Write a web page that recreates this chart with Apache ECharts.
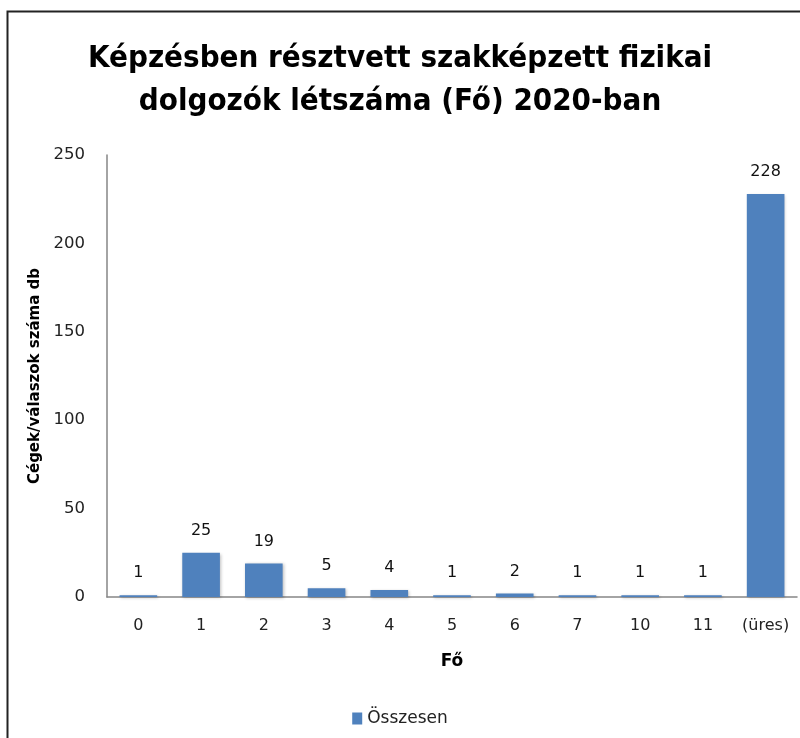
<!DOCTYPE html>
<html>
<head>
<meta charset="utf-8">
<script src="https://cdn.jsdelivr.net/npm/echarts@6/dist/echarts.min.js"></script>
<style>
  html, body { margin: 0; padding: 0; background: #fff; }
  #main { width: 800px; height: 738px; }
</style>
</head>
<body>
<div id="main"></div>
<script>
const categories = ["0", "1", "2", "3", "4", "5", "6", "7", "10", "11", "(üres)"];
const osszesen = [1, 25, 19, 5, 4, 1, 2, 1, 1, 1, 228];
const yTicks = [0, 50, 100, 150, 200, 250];

const TITLE_FONT = "'Liberation Sans Narrow', 'DejaVu Sans Condensed', sans-serif";
const FONT = "'DejaVu Sans', sans-serif";

const chart = echarts.init(document.getElementById("main"));
chart.setOption({
  animation: false,
  graphic: [{
    type: "rect",
    shape: { x: 7.5, y: 11.5, width: 820, height: 800 },
    style: { fill: "none", stroke: "#222", lineWidth: 2 },
    silent: true
  }],
  title: {
    text: "Képzésben résztvett szakképzett fizikai\ndolgozók létszáma (Fő) 2020-ban",
    left: "center",
    top: 32,
    textStyle: {
      fontFamily: TITLE_FONT,
      fontSize: 31,
      fontWeight: "bold",
      color: "#000",
      lineHeight: 43
    }
  },
  legend: {
    bottom: 6,
    left: "center",
    itemWidth: 10,
    itemHeight: 12,
    icon: "rect",
    textStyle: { fontFamily: FONT, fontSize: 17, color: "#222" },
    data: ["Összesen"]
  },
  grid: { left: 107, right: 3, top: 155, bottom: 141 },
  xAxis: {
    type: "category",
    data: categories,
    name: "Fő",
    nameLocation: "middle",
    nameGap: 56,
    nameTextStyle: { fontFamily: FONT, fontSize: 17, fontWeight: "bold", color: "#000" },
    axisLine: { lineStyle: { color: "#868686", width: 1.5 } },
    axisTick: { show: false },
    axisLabel: { interval: 0, fontFamily: FONT, fontSize: 16, color: "#222", margin: 21 }
  },
  yAxis: {
    type: "value",
    min: yTicks[0],
    max: yTicks[yTicks.length - 1],
    interval: 50,
    name: "Cégek/válaszok száma db",
    nameLocation: "middle",
    nameGap: 64,
    nameTextStyle: { fontFamily: FONT, fontSize: 15, fontWeight: "bold", color: "#000" },
    axisLine: { show: true, lineStyle: { color: "#868686", width: 1.5 } },
    axisTick: { show: false },
    splitLine: { show: false },
    axisLabel: { fontFamily: FONT, fontSize: 16.5, color: "#222", margin: 22 }
  },
  series: [{
    name: "Összesen",
    type: "bar",
    data: osszesen,
    barWidth: "60%",
    itemStyle: {
      color: "#4F81BD",
      shadowColor: "rgba(0,0,0,0.25)",
      shadowBlur: 3,
      shadowOffsetX: 1,
      shadowOffsetY: 1
    },
    label: {
      show: true,
      position: "top",
      distance: 14,
      fontFamily: FONT,
      fontSize: 16,
      color: "#111"
    }
  }]
});
</script>
</body>
</html>
